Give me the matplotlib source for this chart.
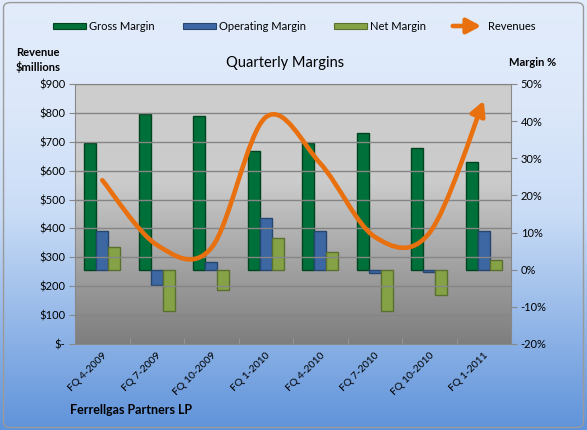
import numpy as np
import matplotlib.pyplot as plt
from matplotlib.path import Path
from matplotlib.patches import FancyArrowPatch, FancyBboxPatch, Rectangle
from matplotlib.colors import LinearSegmentedColormap
from matplotlib.ticker import FuncFormatter, MultipleLocator

plt.rcParams["font.family"] = ["Lato", "DejaVu Sans"]

quarters = ["FQ 4-2009", "FQ 7-2009", "FQ 10-2009", "FQ 1-2010",
            "FQ 4-2010", "FQ 7-2010", "FQ 10-2010", "FQ 1-2011"]
gross = [34.0, 42.0, 41.3, 32.0, 34.0, 36.9, 32.8, 29.1]
operating = [10.4, -4.0, 2.2, 14.0, 10.4, -0.8, -0.5, 10.5]
net = [6.0, -11.0, -5.5, 8.6, 4.7, -11.1, -6.8, 2.7]
revenue = [567, 343, 332, 785, 625, 371, 384, 842]

green, blue, olive = "#00703a", "#3c67a3", "#86a247"
orange = "#e8700f"
arrow_style = "-|>,head_length=0.6,head_width=0.32"

fig = plt.figure(figsize=(5.87, 4.3), dpi=100)

# figure background gradient
bg = fig.add_axes([0, 0, 1, 1], zorder=-10)
bg_cmap = LinearSegmentedColormap.from_list(
    "bg", [(0, "#5f93da"), (0.5, "#c9dcf6"), (0.75, "#dce8fa"), (1, "#e2ecfb")])
bg.imshow(np.linspace(0, 1, 256).reshape(-1, 1), cmap=bg_cmap, aspect="auto",
          extent=[0, 1, 0, 1], origin="lower")
bg.set_xlim(0, 1)
bg.set_ylim(0, 1)
bg.axis("off")
bg.add_patch(FancyBboxPatch((0.006, 0.006), 0.988, 0.988,
                            boxstyle="round,pad=0,rounding_size=0.012",
                            fc="none", ec="#9a9a9a", lw=1))

ax = fig.add_axes([0.1278, 0.2, 0.7428, 0.6047])
x = np.arange(len(quarters))

# plot area gradient
pa_cmap = LinearSegmentedColormap.from_list(
    "pa", [(0, "#7e7e7e"), (0.45, "#b4b4b4"), (0.62, "#cbcbcb"), (1, "#cecece")])
ax.imshow(np.linspace(0, 1, 256).reshape(-1, 1), cmap=pa_cmap, aspect="auto",
          extent=[0, 1, 0, 1], origin="lower", transform=ax.transAxes, zorder=0)

w = 0.22
ax.bar(x - w, gross, w, color=green, edgecolor="#00431f", lw=1, zorder=3)
ax.bar(x, operating, w, color=blue, edgecolor="#27466f", lw=1, zorder=3)
ax.bar(x + w, net, w, color=olive, edgecolor="#5b6f2e", lw=1, zorder=3)

ax.set_xlim(-0.5, len(quarters) - 0.5)
ax.set_ylim(-20, 50)

# revenue on the left axis
tw = ax.twinx()
ax.yaxis.tick_right()
tw.yaxis.tick_left()

ax.yaxis.set_major_locator(MultipleLocator(10))
ax.yaxis.set_major_formatter(FuncFormatter(lambda v, p: f"{v:.0f}%"))
ax.tick_params(axis="y", labelsize=8, length=4, color="#888888", pad=3)
ax.set_xticks(x)
ax.set_xticklabels(quarters, rotation=45, ha="right", rotation_mode="anchor", fontsize=7.5)
ax.tick_params(axis="x", length=0, pad=5)
ax.set_xticks(np.arange(-0.5, len(quarters)), minor=True)
ax.tick_params(axis="x", which="minor", direction="in", length=4, color="#999999")
for s in ax.spines.values():
    s.set_color("#888888")
    s.set_linewidth(0.8)

tw.set_ylim(0, 900)
tw.yaxis.set_major_locator(MultipleLocator(100))
tw.yaxis.set_major_formatter(FuncFormatter(lambda v, p: "$-" if v == 0 else f"${v:.0f}"))
tw.tick_params(axis="y", labelsize=8, length=4, color="#888888", pad=3)
tw.grid(axis="y", color="#858585", lw=1)
tw.set_axisbelow(True)
for s in tw.spines.values():
    s.set_visible(False)
ax.set_zorder(0)
tw.set_zorder(1)
tw.patch.set_visible(False)

# smooth line (bezier through the data points)
pts = np.column_stack([x, revenue]).astype(float)
verts = [pts[0]]
codes = [Path.MOVETO]
n = len(pts)
for i in range(n - 1):
    prev = pts[i - 1] if i > 0 else pts[i]
    nxt = pts[i + 2] if i + 2 < n else pts[i + 1]
    c1 = pts[i] + (pts[i + 1] - prev) / 6
    c2 = pts[i + 1] - (nxt - pts[i]) / 6
    verts += [c1, c2, pts[i + 1]]
    codes += [Path.CURVE4] * 3
tw.add_patch(FancyArrowPatch(path=Path(verts, codes), arrowstyle=arrow_style,
                             mutation_scale=14, color=orange, lw=3.3,
                             transform=tw.transData, zorder=5))

fig.text(285 / 587, 1 - 63 / 430, "Quarterly Margins", ha="center", va="center", fontsize=10.5)
fig.text(38 / 587, 1 - 60 / 430, "Revenue\n\\$millions", ha="center", va="center",
         fontsize=8, fontweight="bold", linespacing=1.3)
fig.text(533 / 587, 1 - 62 / 430, "Margin %", ha="center", va="center",
         fontsize=8, fontweight="bold")
fig.text(70 / 587, 1 - 410 / 430, "Ferrellgas Partners LP", ha="left", va="center",
         fontsize=9, fontweight="bold")

# legend
ly = 1 - 26 / 430
for x0, x1, col, ec, label in [(53, 86, green, "#00431f", "Gross Margin"),
                               (183, 216, blue, "#27466f", "Operating Margin"),
                               (334, 367, olive, "#5b6f2e", "Net Margin")]:
    fig.patches.append(Rectangle((x0 / 587, ly - 3 / 430), (x1 - x0) / 587, 6 / 430,
                                 transform=fig.transFigure, fc=col, ec=ec, lw=0.8))
    fig.text((x1 + 3) / 587, ly, label, ha="left", va="center", fontsize=8)
fig.patches.append(FancyArrowPatch((450 / 587, ly), (484 / 587, ly), transform=fig.transFigure,
                                   arrowstyle=arrow_style, mutation_scale=14,
                                   color=orange, lw=3.3))
fig.text(488 / 587, ly, "Revenues", ha="left", va="center", fontsize=8)

fig.savefig("out.png", dpi=100)
